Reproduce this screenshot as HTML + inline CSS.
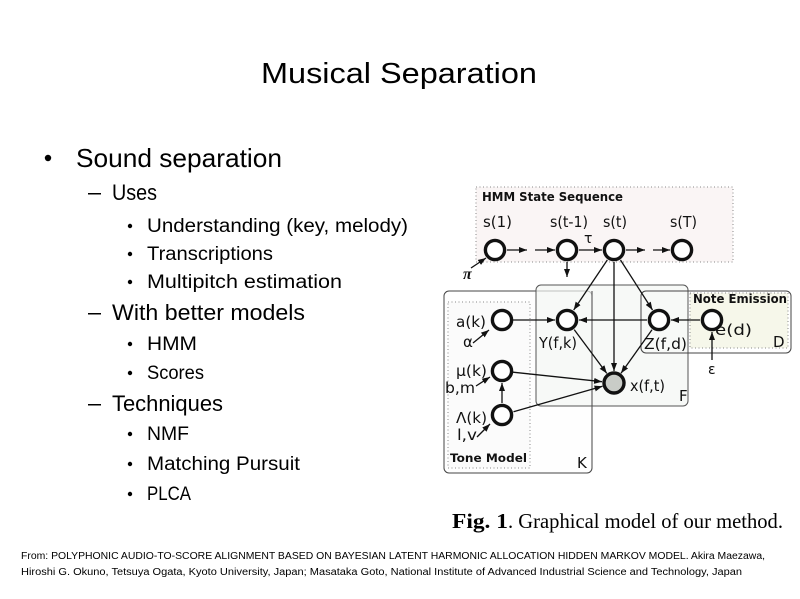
<!DOCTYPE html>
<html><head><meta charset="utf-8"><style>
html,body{margin:0;padding:0;background:#fff;}
svg{display:block;}
.s{font-family:"Liberation Sans",sans-serif;fill:#000;}
.d{font-family:"DejaVu Sans","Liberation Sans",sans-serif;fill:#111;}
.b{font-weight:bold;}
</style></head><body>
<svg width="800" height="599" viewBox="0 0 800 599" xmlns="http://www.w3.org/2000/svg">
<defs>
<marker id="a" markerUnits="userSpaceOnUse" markerWidth="8" markerHeight="6" refX="8" refY="3" orient="auto">
<path d="M0,0 L8,3 L0,6 z" fill="#111"/>
</marker>
</defs>
<rect width="800" height="599" fill="#fff"/>
<!-- Title -->
<text class="s" x="261" y="83" font-size="29" textLength="276" lengthAdjust="spacingAndGlyphs">Musical Separation</text>
<!-- Bullets -->
<circle cx="48" cy="158" r="3.2" fill="#000"/>
<text class="s" x="76" y="167" font-size="26" textLength="206" lengthAdjust="spacingAndGlyphs">Sound separation</text>
<rect x="88" y="193" width="13" height="1.5" fill="#000"/>
<text class="s" x="112" y="200" font-size="22" textLength="45" lengthAdjust="spacingAndGlyphs">Uses</text>
<circle cx="130" cy="226" r="2.2" fill="#000"/>
<text class="s" x="147" y="232" font-size="19" textLength="261" lengthAdjust="spacingAndGlyphs">Understanding (key, melody)</text>
<circle cx="130" cy="254" r="2.2" fill="#000"/>
<text class="s" x="147" y="260" font-size="19" textLength="126" lengthAdjust="spacingAndGlyphs">Transcriptions</text>
<circle cx="130" cy="282" r="2.2" fill="#000"/>
<text class="s" x="147" y="288" font-size="19" textLength="195" lengthAdjust="spacingAndGlyphs">Multipitch estimation</text>
<rect x="88" y="313" width="13" height="1.5" fill="#000"/>
<text class="s" x="112" y="320" font-size="22" textLength="193" lengthAdjust="spacingAndGlyphs">With better models</text>
<circle cx="130" cy="344" r="2.2" fill="#000"/>
<text class="s" x="147" y="350" font-size="19" textLength="50" lengthAdjust="spacingAndGlyphs">HMM</text>
<circle cx="130" cy="373" r="2.2" fill="#000"/>
<text class="s" x="147" y="379" font-size="19" textLength="57" lengthAdjust="spacingAndGlyphs">Scores</text>
<rect x="88" y="404" width="13" height="1.5" fill="#000"/>
<text class="s" x="112" y="411" font-size="22" textLength="111" lengthAdjust="spacingAndGlyphs">Techniques</text>
<circle cx="130" cy="434" r="2.2" fill="#000"/>
<text class="s" x="147" y="440" font-size="19" textLength="42" lengthAdjust="spacingAndGlyphs">NMF</text>
<circle cx="130" cy="464" r="2.2" fill="#000"/>
<text class="s" x="147" y="470" font-size="19" textLength="153" lengthAdjust="spacingAndGlyphs">Matching Pursuit</text>
<circle cx="130" cy="494" r="2.2" fill="#000"/>
<text class="s" x="147" y="500" font-size="19" textLength="44" lengthAdjust="spacingAndGlyphs">PLCA</text>

<!-- Diagram boxes -->
<rect x="476" y="187" width="257" height="75" fill="#faf5f5" stroke="#888" stroke-width="1" stroke-dasharray="1,2.5"/>
<rect x="444" y="291" width="148" height="182" rx="5" fill="#fefefe" stroke="#444" stroke-width="1"/>
<rect x="448" y="302" width="82" height="166" fill="#fbfbfb" stroke="#888" stroke-width="1" stroke-dasharray="1,2.5"/>
<rect x="536" y="285" width="152" height="121" rx="5" fill="#f4f7f3" fill-opacity="0.7" stroke="#555" stroke-width="1"/>
<line x1="592" y1="291" x2="592" y2="406" stroke="#444" stroke-width="1"/>
<rect x="641" y="291" width="150" height="62" rx="5" fill="none" stroke="#444" stroke-width="1"/>
<rect x="690" y="293" width="98" height="55" fill="#f6f7ea" stroke="#888" stroke-width="1" stroke-dasharray="1,2.5"/>

<text class="d b" x="482" y="201" font-size="12" textLength="141" lengthAdjust="spacingAndGlyphs">HMM State Sequence</text>
<text class="d b" x="693" y="303" font-size="12" textLength="94" lengthAdjust="spacingAndGlyphs">Note Emission</text>
<text class="d b" x="450" y="462" font-size="11.5" textLength="77" lengthAdjust="spacingAndGlyphs">Tone Model</text>

<!-- Edges -->
<g stroke="#111" stroke-width="1.3" fill="none" marker-end="url(#a)">
<line x1="507" y1="250" x2="527" y2="250"/>
<line x1="535" y1="250" x2="555" y2="250"/>
<line x1="579" y1="250" x2="602" y2="250"/>
<line x1="626" y1="250" x2="645" y2="250"/>
<line x1="653" y1="250" x2="670" y2="250"/>
<line x1="471" y1="268" x2="486" y2="258"/>
<line x1="567" y1="262" x2="567" y2="277"/>
<line x1="607.3" y1="260" x2="573.7" y2="310"/>
<line x1="620.5" y1="260" x2="652.5" y2="310"/>
<line x1="614" y1="262" x2="614" y2="371"/>
<line x1="574.2" y1="329.6" x2="606.8" y2="373.4"/>
<line x1="652" y1="329.8" x2="621" y2="373.2"/>
<line x1="512" y1="320" x2="555" y2="320"/>
<line x1="647" y1="320" x2="579" y2="320"/>
<line x1="700" y1="320" x2="671" y2="320"/>
<line x1="712" y1="360" x2="712" y2="332"/>
<line x1="513" y1="372.2" x2="602" y2="381.7"/>
<line x1="513.5" y1="411.7" x2="602.5" y2="386.3"/>
<line x1="502" y1="403" x2="502" y2="383"/>
<line x1="473" y1="343" x2="489" y2="330"/>
<line x1="476" y1="386" x2="490" y2="377"/>
<line x1="477" y1="437" x2="490" y2="424"/>
</g>

<!-- Nodes -->
<g stroke="#111" stroke-width="3.4" fill="#fff">
<circle cx="495" cy="250" r="9.6"/>
<circle cx="567" cy="250" r="9.6"/>
<circle cx="614" cy="250" r="9.6"/>
<circle cx="682" cy="250" r="9.6"/>
<circle cx="502" cy="320" r="9.6"/>
<circle cx="567" cy="320" r="9.6"/>
<circle cx="659" cy="320" r="9.6"/>
<circle cx="712" cy="320" r="9.6"/>
<circle cx="502" cy="371" r="9.6"/>
<circle cx="502" cy="415" r="9.6"/>
<circle cx="614" cy="383" r="10" fill="#c9ccc7"/>
</g>

<!-- Node labels -->
<g class="d" font-size="15">
<text x="483" y="227" textLength="29" lengthAdjust="spacingAndGlyphs">s(1)</text>
<text x="550" y="227" textLength="38" lengthAdjust="spacingAndGlyphs">s(t-1)</text>
<text x="603" y="227" textLength="24" lengthAdjust="spacingAndGlyphs">s(t)</text>
<text x="670" y="227" textLength="27" lengthAdjust="spacingAndGlyphs">s(T)</text>
<text x="456" y="327" textLength="30" lengthAdjust="spacingAndGlyphs">a(k)</text>
<text x="539" y="348" textLength="38" lengthAdjust="spacingAndGlyphs">Y(f,k)</text>
<text x="644" y="349" textLength="43" lengthAdjust="spacingAndGlyphs">Z(f,d)</text>
<text x="715" y="335" textLength="37" lengthAdjust="spacingAndGlyphs">e(d)</text>
<text x="773" y="347">D</text>
<text x="456" y="376" textLength="31" lengthAdjust="spacingAndGlyphs">μ(k)</text>
<text x="445" y="393" textLength="30" lengthAdjust="spacingAndGlyphs">b,m</text>
<text x="456" y="423" textLength="31" lengthAdjust="spacingAndGlyphs">Λ(k)</text>
<text x="457" y="440" textLength="20" lengthAdjust="spacingAndGlyphs">l,v</text>
<text x="577" y="468">K</text>
<text x="630" y="391" textLength="35" lengthAdjust="spacingAndGlyphs">x(f,t)</text>
<text x="679" y="401">F</text>
<text x="463" y="347">α</text>
<text x="584" y="243" font-size="14">τ</text>
<text x="708" y="374" font-size="14">ε</text>
<text x="463" y="279" font-size="16" font-style="italic" font-weight="bold" font-family="Liberation Serif, serif">π</text>
</g>

<!-- Caption -->
<text x="452" y="528" font-family="Liberation Serif, serif" font-weight="bold" font-size="21" fill="#000" textLength="56" lengthAdjust="spacingAndGlyphs">Fig. 1</text>
<text x="508" y="528" font-family="Liberation Serif, serif" font-size="21" fill="#000" textLength="275" lengthAdjust="spacingAndGlyphs">. Graphical model of our method.</text>

<!-- Footer -->
<text class="s" x="21" y="559" font-size="10" textLength="744" lengthAdjust="spacingAndGlyphs">From: POLYPHONIC AUDIO-TO-SCORE ALIGNMENT BASED ON BAYESIAN LATENT HARMONIC ALLOCATION HIDDEN MARKOV MODEL. Akira Maezawa,</text>
<text class="s" x="21" y="575" font-size="10" textLength="721" lengthAdjust="spacingAndGlyphs">Hiroshi G. Okuno, Tetsuya Ogata, Kyoto University, Japan; Masataka Goto, National Institute of Advanced Industrial Science and Technology, Japan</text>
</svg>
</body></html>
